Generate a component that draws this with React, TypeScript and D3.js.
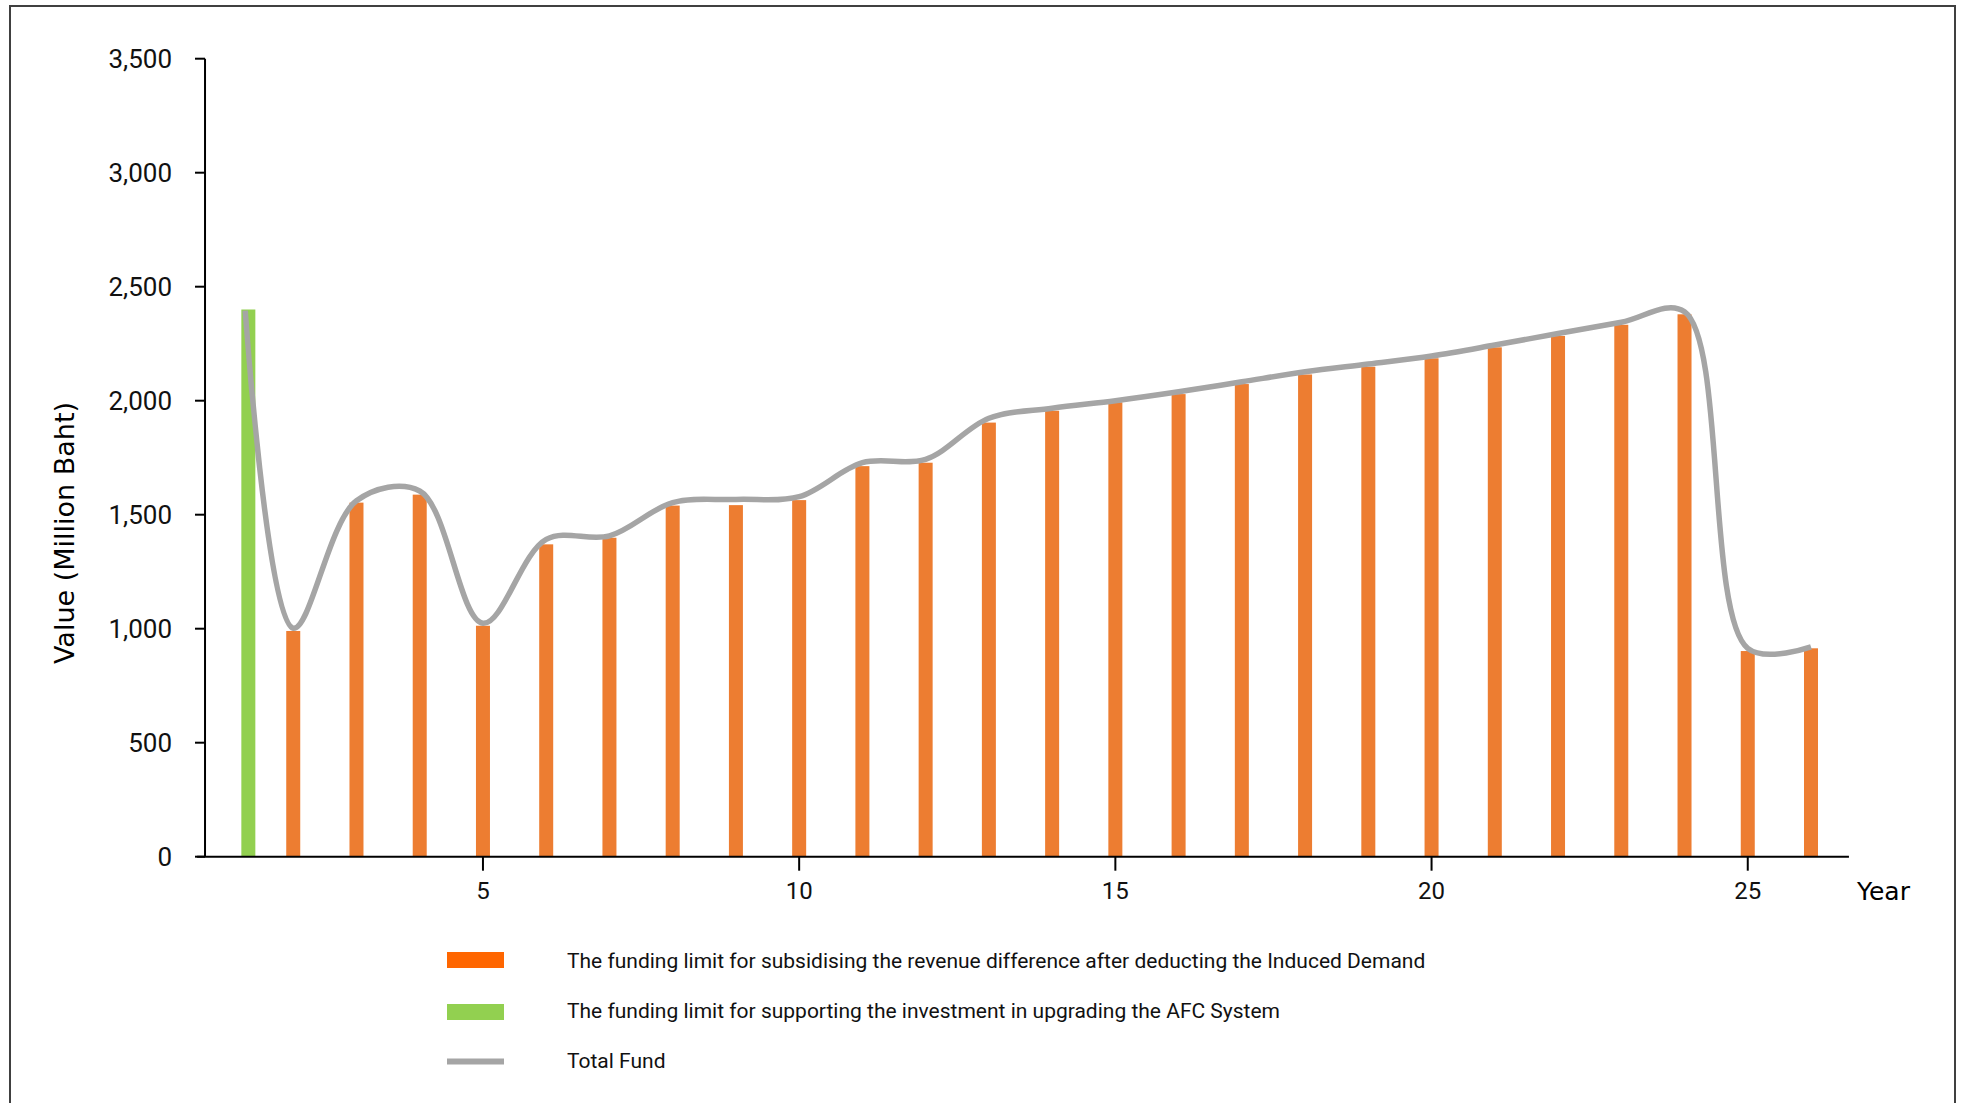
import React from "react";
import * as d3 from "d3";

// ---- data ----
const years = [1, 2, 3, 4, 5, 6, 7, 8, 9, 10, 11, 12, 13, 14, 15, 16, 17, 18, 19, 20, 21, 22, 23, 24, 25, 26];
const afcYears = [1];
const afcValues = [2400];
const subsidyYears = [2, 3, 4, 5, 6, 7, 8, 9, 10, 11, 12, 13, 14, 15, 16, 17, 18, 19, 20, 21, 22, 23, 24, 25, 26];
const subsidyValues = [990, 1553, 1588, 1013, 1370, 1399, 1540, 1542, 1564, 1713, 1728, 1904, 1956, 1993, 2029, 2073, 2115, 2149, 2186, 2234, 2284, 2333, 2379, 902, 914];
const totalValues = [2395, 1002, 1561, 1604, 1024, 1392, 1407, 1553, 1567, 1579, 1728, 1743, 1923, 1967, 2000, 2039, 2083, 2127, 2161, 2196, 2244, 2295, 2344, 2390, 914, 920];
const yTicks = [0, 500, 1000, 1500, 2000, 2500, 3000, 3500];
const xTicks = [5, 10, 15, 20, 25];
const legendLabels = [
  "The funding limit for subsidising the revenue difference after deducting the Induced Demand",
  "The funding limit for supporting the investment in upgrading the AFC System",
  "Total Fund",
];
const colors = { subsidy: "#ED7D31", subsidyLegend: "#FF6600", afc: "#92D050", total: "#A5A5A5" };

export default function App() {
  const W = 1966;
  const H = 1103;
  const x = d3.scaleLinear().domain([1, 26]).range([230, 1811]);
  const y = d3.scaleLinear().domain([0, 3500]).range([856.7, 58.7]);
  const barW = 14;
  const afcShift = 0.29;
  const lineStartShift = 0.24;
  const fmt = d3.format(",");
  const axisX0 = x(0.48);
  const axisX1 = x(26.6);
  const yAxisX = x(0.605);

  const pts: [number, number][] = years.map((yr, i) => [
    x(yr + (i === 0 ? lineStartShift : 0)),
    y(totalValues[i]),
  ]);
  const linePath = d3.line().curve(d3.curveCatmullRom.alpha(0.5))(pts) || "";

  const tickFont = "Roboto, 'Noto Sans', sans-serif";

  return (
    <svg
      width={W}
      height={H}
      style={{ position: "absolute", left: 0, top: 0, display: "block", background: "#fff" }}
    >
      <rect x={0} y={0} width={W} height={H} fill="#fff" />
      <rect x={10} y={6} width={1945} height={1200} fill="none" stroke="#404040" strokeWidth={2} />

      {/* bars */}
      {subsidyYears.map((yr, i) => (
        <rect
          key={"s" + yr}
          x={x(yr) - barW / 2}
          y={y(subsidyValues[i])}
          width={barW}
          height={y(0) - y(subsidyValues[i])}
          fill={colors.subsidy}
        />
      ))}
      {afcYears.map((yr, i) => (
        <rect
          key={"a" + yr}
          x={x(yr + afcShift) - barW / 2}
          y={y(afcValues[i])}
          width={barW}
          height={y(0) - y(afcValues[i])}
          fill={colors.afc}
        />
      ))}

      {/* line */}
      <path d={linePath} fill="none" stroke={colors.total} strokeWidth={5.5} strokeLinejoin="round" />

      {/* y axis */}
      <line x1={yAxisX} x2={yAxisX} y1={y(3500)} y2={y(0)} stroke="#000" strokeWidth={2} />
      {yTicks.map((t) => (
        <g key={"yt" + t}>
          <line x1={yAxisX - 10} x2={yAxisX} y1={y(t)} y2={y(t)} stroke="#000" strokeWidth={2} />
          <text
            x={yAxisX - 33}
            y={y(t)}
            dy="0.36em"
            textAnchor="end"
            fontFamily={tickFont}
            fontSize={26}
            fill="#111"
          >
            {fmt(t)}
          </text>
        </g>
      ))}
      <text
        transform={`translate(${64},${533}) rotate(-90)`}
        textAnchor="middle"
        dominantBaseline="central"
        fontFamily="'DejaVu Sans', sans-serif"
        fontSize={27}
        fill="#000"
      >
        Value (Million Baht)
      </text>

      {/* x axis */}
      <line x1={axisX0} x2={axisX1} y1={y(0)} y2={y(0)} stroke="#000" strokeWidth={2} />
      {xTicks.map((t) => (
        <g key={"xt" + t}>
          <line x1={x(t)} x2={x(t)} y1={y(0)} y2={y(0) + 14} stroke="#000" strokeWidth={2} />
          <text x={x(t)} y={899} textAnchor="middle" fontFamily={tickFont} fontSize={24} fill="#111">
            {t}
          </text>
        </g>
      ))}
      <text x={1857} y={900} fontFamily="'DejaVu Sans', sans-serif" fontSize={25} fill="#000">
        Year
      </text>

      {/* legend */}
      <rect x={447} y={952} width={57} height={16} fill={colors.subsidyLegend} />
      <rect x={447} y={1004} width={57} height={16} fill={colors.afc} />
      <line x1={447} x2={504} y1={1061.5} y2={1061.5} stroke={colors.total} strokeWidth={6} />
      {legendLabels.map((l, i) => (
        <text key={l} x={567} y={968 + i * 50} fontFamily={tickFont} fontSize={21} fill="#111">
          {l}
        </text>
      ))}
    </svg>
  );
}
